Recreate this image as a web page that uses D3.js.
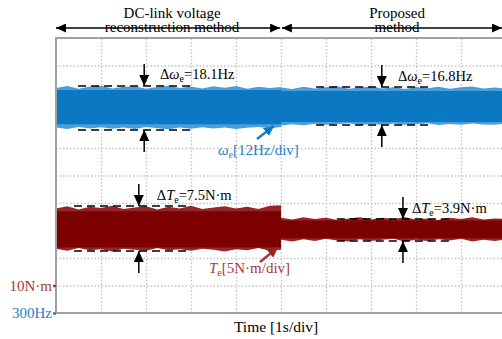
<!DOCTYPE html>
<html>
<head>
<meta charset="utf-8">
<script src="https://cdn.jsdelivr.net/npm/d3@7"></script>
<style>
body { margin: 0; background: #fff; }
svg { display: block; }
text { font-family: "Liberation Serif", "Times New Roman", serif; }
</style>
</head>
<body>
<svg id="chart" width="502" height="339"></svg>
<script>
// sample times [s] for the two halves of the record
var timeA = [0,0.25,0.5,0.75,1,1.25,1.5,1.75,2,2.25,2.5,2.75,3,3.25,3.5,3.75,4,4.25,4.5,4.75,5];
var timeB = [5,5.25,5.5,5.75,6,6.25,6.5,6.75,7,7.25,7.5,7.75,8,8.25,8.5,8.75,9,9.25,9.5,9.75,10];

// speed envelope [Hz], peaks of the ripple
var omegaTopA = [398.2,399.1,397.9,398.8,399.2,398.0,398.7,399.0,397.9,398.6,399.2,398.2,398.8,398.0,398.9,398.3,399.1,397.9,398.7,398.2,398.6];
var omegaBotA = [381.0,380.3,381.2,380.5,381.1,380.4,380.9,380.3,381.2,380.6,380.2,380.9,380.4,381.1,380.5,380.9,380.3,380.8,381.2,380.6,381.2];
var omegaTopB = [398.4,397.8,398.7,398.0,398.5,398.9,397.9,398.4,398.8,398.0,398.5,397.8,398.6,398.1,398.7,397.9,398.5,398.8,398.0,398.4,397.9];
var omegaBotB = [381.8,382.4,381.9,382.6,382.1,382.5,382.8,382.0,382.5,382.2,382.7,382.1,382.4,382.8,382.0,382.5,382.2,382.7,382.3,382.1,382.6];
// dense core of the band [lo, hi]
var omegaCoreA = [382.4, 397.3];
var omegaCoreB = [383.4, 396.9];

// torque envelope [N·m]
var torqueTopA = [24.0,24.4,23.8,24.3,24.1,24.5,23.9,24.2,24.4,23.8,24.3,24.0,24.5,23.9,24.2,24.4,24.0,24.3,23.9,24.5,24.6];
var torqueBotA = [16.7,16.3,16.8,16.4,16.6,16.2,16.7,16.5,16.3,16.8,16.4,16.6,16.3,16.7,16.5,16.2,16.6,16.4,16.8,16.3,16.5];
var torqueTopB = [22.3,22.0,22.4,22.1,22.3,21.9,22.2,22.4,22.0,22.3,22.1,22.4,22.0,22.2,21.9,22.3,22.1,22.4,22.0,22.2,22.1];
var torqueBotB = [18.3,18.0,18.4,18.1,18.5,18.2,18.0,18.4,18.1,18.3,18.5,18.0,18.3,18.1,18.4,18.2,18.5,18.0,18.3,18.1,18.4];
var torqueCoreA = [16.9, 23.5];
var torqueCoreB = [18.6, 21.8];

// ripple markers: dashed levels, arrow time, label start time
var omegaMarks = [
    {t0: 0.49, t1: 3.04, hi: 399.1, lo: 379.9, ta: 1.96, tl: 2.31, val: "18.1Hz"},
    {t0: 5.78, t1: 8.36, hi: 398.6, lo: 382.0, ta: 7.24, tl: 7.60, val: "16.8Hz"}
];
var torqueMarks = [
    {t0: 0.40, t1: 2.98, hi: 24.45, lo: 16.27, ta: 1.84, tl: 2.24, val: "7.5N·m"},
    {t0: 6.24, t1: 8.82, hi: 22.09, lo: 18.09, ta: 7.71, tl: 7.91, val: "3.9N·m"}
];

var headerTop = ["DC-link voltage", "Proposed"];
var headerBottom = ["reconstruction method", "method"];
var headerCenters = [2.58, 7.58];

var BLUE = "#0a78c2", BLUE_LT = "#4a9fdb", RED = "#7c0000", RED_LT = "#962626";
var BLUE_TXT = "#1f7fc6", RED_TXT = "#a23c3c";

var svg = d3.select("#chart");
var x = d3.scaleLinear().domain([0, 10]).range([56, 506]);
var yW = d3.scaleLinear().domain([300, 420]).range([313, 38]);
var yT = d3.scaleLinear().domain([5, 55]).range([313, 38]);

var defs = svg.append("defs");
function marker(id, color, w, h) {
    defs.append("marker")
        .attr("id", id)
        .attr("markerUnits", "userSpaceOnUse")
        .attr("markerWidth", w).attr("markerHeight", h)
        .attr("refX", w).attr("refY", h/2)
        .attr("orient", "auto-start-reverse")
        .append("path")
        .attr("d", "M0,0L" + w + "," + h/2 + "L0," + h + "Z")
        .style("fill", color);
}
marker("ah", "#000", 10, 9);
marker("av", "#000", 11, 10);
marker("ab", BLUE, 10, 10);
marker("ar", RED_LT, 10, 10);

// grid
var gx = svg.append("g").attr("transform", "translate(0,313)")
    .call(d3.axisBottom(x).ticks(10).tickSize(-275).tickFormat(""));
var gy = svg.append("g").attr("transform", "translate(56,0)")
    .call(d3.axisLeft(yW).tickValues(d3.range(312, 420, 12)).tickSize(-450).tickFormat(""));
[gx, gy].forEach(function (g) {
    g.select(".domain").remove();
    g.selectAll(".tick line")
        .style("stroke", "#c4c4c4")
        .style("stroke-width", 1.3)
        .style("stroke-dasharray", "1.5,2");
});
gx.selectAll(".tick").filter(function (d) { return d == 0; }).remove();

// bands
function band(times, top, bot, core, yScale, light, dark) {
    var pts = times.map(function (t, i) { return {t: t, hi: top[i], lo: bot[i]}; });
    var area = d3.area()
        .x(function (d) { return x(d.t); })
        .y0(function (d) { return yScale(d.lo); })
        .y1(function (d) { return yScale(d.hi); });
    svg.append("path").datum(pts).attr("d", area).style("fill", light);
    var cpts = [{t: times[0], lo: core[0], hi: core[1]}, {t: times[times.length-1], lo: core[0], hi: core[1]}];
    svg.append("path").datum(cpts).attr("d", area).style("fill", dark);
}
band(timeA, omegaTopA, omegaBotA, omegaCoreA, yW, BLUE_LT, BLUE);
band(timeB, omegaTopB, omegaBotB, omegaCoreB, yW, BLUE_LT, BLUE);
band(timeA, torqueTopA, torqueBotA, torqueCoreA, yT, RED_LT, RED);
band(timeB, torqueTopB, torqueBotB, torqueCoreB, yT, RED_LT, RED);

// frame
svg.append("path")
    .attr("d", "M506," + yW(420) + "H" + x(0) + "V" + yW(300) + "H506")
    .style("fill", "none").style("stroke", "#a0a0a0").style("stroke-width", 2);

// y ticks
function tickAxis(scale, val, fmt, color) {
    var g = svg.append("g").attr("transform", "translate(56,0)")
        .call(d3.axisLeft(scale).tickValues([val]).tickFormat(fmt).tickSize(3).tickPadding(1));
    g.select(".domain").remove();
    g.selectAll(".tick line").style("stroke", color).style("stroke-width", 2.5);
    g.selectAll(".tick text")
        .style("fill", color)
        .style("font-family", "Liberation Serif")
        .style("font-size", "15px");
}
tickAxis(yT, 10, function (d) { return d + "N·m"; }, RED_TXT);
tickAxis(yW, 300, function (d) { return d + "Hz"; }, BLUE_TXT);

// ripple markers
function ripple(marks, yScale, sym) {
    marks.forEach(function (m) {
        [m.hi, m.lo].forEach(function (v) {
            svg.append("line")
                .attr("x1", x(m.t0)).attr("x2", x(m.t1))
                .attr("y1", yScale(v)).attr("y2", yScale(v))
                .style("stroke", "#000").style("stroke-width", 1.5)
                .style("stroke-dasharray", "8,5");
        });
        var xa = x(m.ta), yh = yScale(m.hi), yl = yScale(m.lo);
        svg.append("line").attr("x1", xa).attr("x2", xa).attr("y1", yh - 22).attr("y2", yh)
            .style("stroke", "#000").style("stroke-width", 1.5).attr("marker-end", "url(#av)");
        svg.append("line").attr("x1", xa).attr("x2", xa).attr("y1", yl + 22).attr("y2", yl)
            .style("stroke", "#000").style("stroke-width", 1.5).attr("marker-end", "url(#av)");
        var t = svg.append("text")
            .attr("x", x(m.tl)).attr("y", yh - 6.5)
            .style("font-size", "14.5px").style("fill", "#000");
        t.append("tspan").text("Δ");
        t.append("tspan").style("font-style", "italic").text(sym);
        t.append("tspan").attr("dy", 3).style("font-size", "10px").text("e");
        t.append("tspan").attr("dy", -3).text("=" + m.val);
    });
}
ripple(omegaMarks, yW, "ω");
ripple(torqueMarks, yT, "T");

// channel labels
function chanLabel(t, v, yScale, sym, unit, color, arrowFrom, arrowTo, mk) {
    var lb = svg.append("text")
        .attr("x", x(t)).attr("y", yScale(v))
        .style("font-size", "15px").style("fill", color);
    lb.append("tspan").style("font-style", "italic").text(sym);
    lb.append("tspan").attr("dy", 3).style("font-size", "10px").text("e");
    lb.append("tspan").attr("dy", -3).text(unit);
    svg.append("line")
        .attr("x1", x(arrowFrom[0])).attr("y1", yScale(arrowFrom[1]))
        .attr("x2", x(arrowTo[0])).attr("y2", yScale(arrowTo[1]))
        .style("stroke", color).style("stroke-width", 2.5)
        .attr("marker-end", "url(#" + mk + ")");
}
chanLabel(3.6, 368.9, yW, "ω", "[12Hz/div]", BLUE_TXT, [4.467, 375.9], [4.84, 381.6], "ab");
chanLabel(3.4, 12.27, yT, "T", "[5N·m/div]", RED_TXT, [4.533, 14.27], [4.93, 16.9], "ar");

// header
headerCenters.forEach(function (c, i) {
    svg.append("text").attr("x", x(c)).attr("y", 17.5)
        .attr("text-anchor", "middle").style("font-size", "15px").text(headerTop[i]);
    svg.append("text").attr("x", x(c)).attr("y", 32)
        .attr("text-anchor", "middle").style("font-size", "15px").text(headerBottom[i]);
});
[[0, 4.98], [5.02, 9.98]].forEach(function (r) {
    svg.append("line")
        .attr("x1", x(r[0])).attr("x2", x(r[1]) > 502 ? 502 : x(r[1]))
        .attr("y1", 28).attr("y2", 28)
        .style("stroke", "#000").style("stroke-width", 1.3)
        .attr("marker-start", "url(#ah)").attr("marker-end", "url(#ah)");
});

// x label
svg.append("text").attr("x", x(4.89)).attr("y", 332)
    .attr("text-anchor", "middle").style("font-size", "15.5px").text("Time [1s/div]");
</script>
</body>
</html>
